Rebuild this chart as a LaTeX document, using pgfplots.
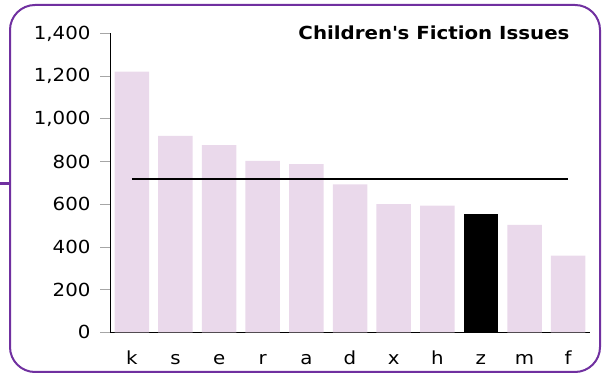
\documentclass[border=0pt]{standalone}
\usepackage{pgfplots}
\pgfplotsset{compat=1.18}
\usepackage{fontspec}
\setmainfont{DejaVu Sans}[FakeStretch=1.1]
\definecolor{barpink}{RGB}{234,217,235}
\definecolor{frame}{RGB}{112,48,160}
\begin{document}
\begin{tikzpicture}
\path[use as bounding box] (0,0) rectangle (602pt,374pt);
\draw[frame, line width=2pt, rounded corners=25pt] (10pt,2pt) rectangle (600pt,369pt);
\draw[frame, line width=3pt] (0,190pt) -- (10pt,190pt);
\begin{axis}[
    at={(110pt,41.7pt)}, anchor=south west,
    scale only axis,
    width=480pt, height=298.8pt,
    xmin=-0.5, xmax=10.5,
    ymin=0, ymax=1400,
    axis x line*=bottom,
    axis y line*=left,
    axis line style={black, line width=0.8pt},
    xtick={0,...,10},
    xticklabels={k,s,e,r,a,d,x,h,z,m,f},
    ytick={0,200,...,1400},
    tick align=outside,
    x tick style={draw=none},
    y tick style={gray!70, line width=0.8pt},
    major tick length=10pt,
    tick label style={font=\fontsize{18}{21}\selectfont},
    xticklabel style={anchor=base, yshift=-22pt},
    yticklabel style={xshift=-6pt},
    /pgf/number format/1000 sep={,},
    /pgf/number format/assume math mode=true,
]
\addplot[ybar, bar width=34.5pt, fill=barpink, draw=none] coordinates {
  (0,1221) (1,920) (2,877) (3,803) (4,788) (5,693) (6,601) (7,593) (9,503) (10,359)
};
\addplot[ybar, bar width=34.5pt, fill=black, draw=none] coordinates {
  (8,554)
};
\addplot[black, line width=2pt, no marks] coordinates {(0,720) (10,720)};
\end{axis}
\node[anchor=east, font=\bfseries\fontsize{18}{21}\selectfont] at (573pt,341pt) {Children\textquotesingle s Fiction Issues};
\end{tikzpicture}
\end{document}
